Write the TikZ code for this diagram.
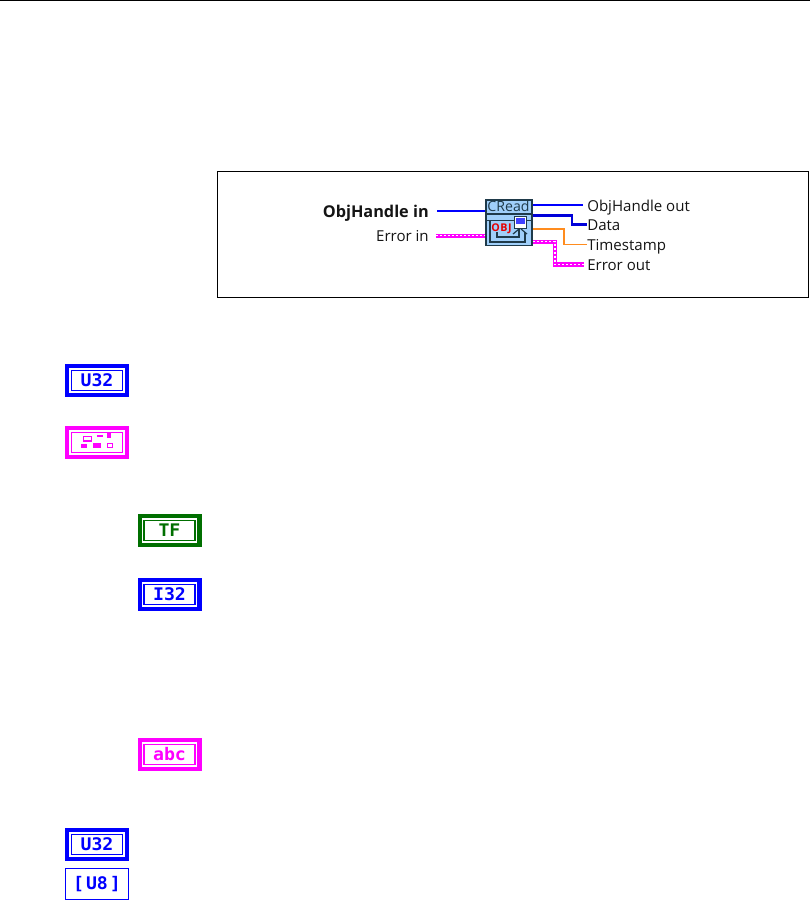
\documentclass[tikz,border=0pt]{standalone}
\usepackage{fontspec}
\setmainfont{Open Sans}
\newfontfamily\iconfont{DejaVu Sans Mono}[BoldFont={DejaVu Sans Mono Bold},BoldFeatures={FakeStretch=1.05}]
\definecolor{lvblue}{HTML}{0000FF}
\definecolor{lvpink}{HTML}{FF00FF}
\definecolor{lvgreen}{HTML}{006F00}
\definecolor{lvorange}{HTML}{FF8C1E}
\definecolor{lvdark}{HTML}{1F3A4A}
\definecolor{lvfill}{HTML}{A0CFFA}
\tikzset{
  x=0.75pt,y=-0.75pt,
  iconband/.style={draw=#1,line width=3.2pt,fill=white,minimum width=44.8pt,minimum height=21.5pt,inner sep=0pt},
  iconinner/.style={draw=#1,line width=1pt,text=#1,minimum width=38.3pt,minimum height=15.1pt,inner sep=0pt,font=\iconfont\bfseries\fontsize{13}{13}\selectfont},
  iconthin/.style={draw=#1,line width=1pt,text=#1,fill=white,minimum width=47pt,minimum height=23.6pt,inner sep=0pt,font=\iconfont\bfseries\fontsize{13}{13}\selectfont},
  lab/.style={inner sep=0pt,text height=11.25pt,text depth=2.25pt,font=\fontsize{11.3}{13}\selectfont,text=black!92},
  wirethin/.style={draw=#1,line width=0.85pt},
  wirethick/.style={draw=#1,line width=1.9pt},
  wirepink/.style={draw=lvpink,line width=3.1pt},
  wiredots/.style={draw=white,line width=1pt,dash pattern=on 1.5pt off 1.5pt},
  crline/.style={draw=lvdark,line width=0.9pt},
  clusterbox/.style={draw=lvpink,line width=1pt},
  clusterfill/.style={fill=lvpink},
}
\begin{document}
\begin{tikzpicture}
\useasboundingbox (0,0) rectangle (810,901);
% page rule
\coordinate (ruleL) at (0,0.5);
\coordinate (ruleR) at (810,0.5);
\draw[line width=0.75pt,black] (ruleL) -- (ruleR);
% frame
\node[draw=black,line width=0.75pt,minimum width=443.5pt,minimum height=94.5pt,inner sep=0pt] (frame) at (513,234.5) {};
% function icon
\node[draw=lvdark,line width=1.2pt,fill=lvfill,minimum width=34.8pt,minimum height=34.2pt,inner sep=0pt] (cread) at (509,222.5) {};
\node[inner sep=0pt,font=\fontsize{10.6}{11}\selectfont,text=lvdark] (creadtxt) at (508.5,206.5) {CRead};
\draw[crline] (485,214) -- (533,214);
\draw[crline] (485,220.7) -- (515,220.7) (526,220.7) -- (533,220.7);
\draw[crline] (490,221) -- (490,242) -- (525,242) -- (525,232);
\draw[crline] (497,232) -- (497,237) -- (519,237) -- (519,229);
\draw[crline] (519,229) -- (513,234) (521,229) -- (527,234);
\node[draw=lvdark,fill=white,line width=0.7pt,minimum width=9.6pt,minimum height=9pt,inner sep=0pt] (monitor) at (520.5,222) {};
\node[fill=lvblue!75,minimum width=6.8pt,minimum height=4.4pt,inner sep=0pt] (screen) at (520.5,221) {};
\node[inner sep=0pt,font=\fontsize{8}{9}\selectfont\bfseries,text=red!90!black] (objtxt) at (501.5,229) {O\kern0.4pt B\kern0.4pt J};
% labels
\node[lab,anchor=east,font=\fontsize{12.2}{13}\selectfont\bfseries] (objin) at (429,211) {ObjHandle in};
\node[lab,anchor=east] (errin) at (429,235.7) {Error in};
\node[lab,anchor=west] (objout) at (587,205) {ObjHandle out};
\node[lab,anchor=west] (data) at (587,224.5) {Data};
\node[lab,anchor=west] (stamp) at (587,244.5) {Timestamp};
\node[lab,anchor=west] (errout) at (587,264.5) {Error out};
% terminals and bends
\coordinate (pdata) at (533,215.7);
\coordinate (pstamp) at (533,229);
\coordinate (perr) at (533,241.7);
\coordinate (bdata) at (572,0);
\coordinate (bstamp) at (564,0);
\coordinate (berr) at (555,0);
% wires
\draw[wirethin=lvblue,shorten <=6pt] (objin.east) -- (objin.east -| cread.west);
\draw[wirepink,shorten <=5pt] (errin.east) -- (errin.east -| cread.west);
\draw[wiredots,shorten <=5pt] (errin.east) -- (errin.east -| cread.west);
\draw[wirethin=lvblue,shorten >=3pt] (objout.west -| cread.east) -- (objout.west);
\draw[wirethick=lvblue!85!black] (pdata) -- (pdata -| bdata) -- (bdata |- data.west) -- (data.west);
\draw[wirethin=lvorange] (pstamp) -- (pstamp -| bstamp) -- (bstamp |- stamp.west) -- (stamp.west);
\draw[wirepink,shorten >=2pt] (perr) -- (perr -| berr) -- (berr |- errout.west) -- (errout.west);
\draw[wiredots,shorten >=2pt] (perr) -- (perr -| berr) -- (berr |- errout.west) -- (errout.west);
% data type icons
\node[iconband=lvblue] (u32a) at (97,380.5) {};
\node[iconinner=lvblue] (u32atxt) at (u32a) {U32};
\node[iconband=lvpink] (cluster) at (97,442.5) {};
\node[iconinner=lvpink] (clusterin) at (cluster) {};
\draw[clusterbox] (83.5,436.5) rectangle (91.5,441);
\draw[clusterbox] (97,436) -- (103,436);
\fill[clusterfill] (107,433) rectangle (111,437.5);
\fill[clusterfill] (81,444) rectangle (87,448);
\fill[clusterfill] (93,443) rectangle (101,448);
\draw[clusterbox] (107.5,443.5) rectangle (112.5,447.5);
\node[iconband=lvgreen] (tf) at (169.5,530.5) {};
\node[iconinner=lvgreen] (tftxt) at (tf) {TF};
\node[iconband=lvblue] (i32) at (169.5,594.5) {};
\node[iconinner=lvblue] (i32txt) at (i32) {I32};
\node[iconband=lvpink] (abc) at (169.5,754.5) {};
\node[iconinner=lvpink] (abctxt) at (abc) {abc};
\node[iconband=lvblue] (u32b) at (97,844.5) {};
\node[iconinner=lvblue] (u32btxt) at (u32b) {U32};
\node[iconthin=lvblue] (u8) at (97,884) {[\kern1.5pt U8\kern1.5pt]};
\end{tikzpicture}
\end{document}
